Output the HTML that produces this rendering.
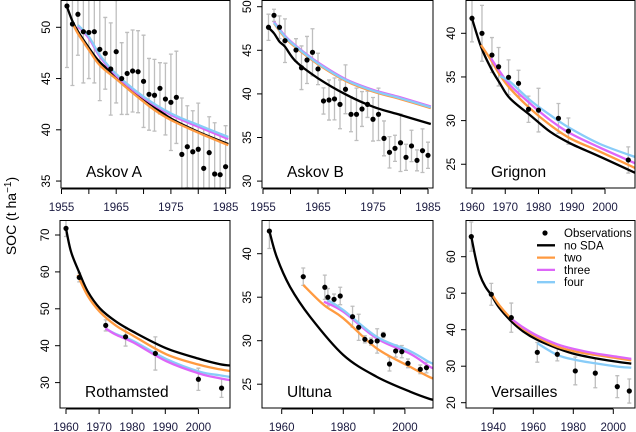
<!DOCTYPE html>
<html><head><meta charset="utf-8"><style>
html,body{margin:0;padding:0;background:#fff;}
svg{display:block;font-family:"Liberation Sans",sans-serif;}
</style></head><body>
<svg id="chart" width="636" height="432" viewBox="0 0 636 432" xmlns="http://www.w3.org/2000/svg">
<text transform="translate(16,216) rotate(-90)" text-anchor="middle" font-size="14">SOC (t ha<tspan baseline-shift="super" font-size="10">−1</tspan>)</text>
</svg>
<script>
// ---------- Askov A ----------
const askovAYears=[1956,1957,1958,1959,1960,1961,1962,1963,1964,1965,1966,1967,1968,1969,1970,1971,1972,1973,1974,1975,1976,1977,1978,1979,1980,1981,1982,1983,1984,1985];
const askovAObs=[52.08,50.32,51.27,49.57,49.5,49.57,47.85,47.46,45.93,47.62,45.0,45.5,45.74,45.67,44.73,43.46,43.37,44.05,43.0,42.68,43.17,37.6,38.35,37.86,38.1,36.24,37.77,35.69,35.62,36.4];
const askovAErr=[6,6,4,5,4.5,5,5,3.5,4.5,5,3.5,4,4,4,4.5,3.5,3.5,2.5,3.5,4.7,4.5,5.5,4,4,4.5,4,3.5,5,4,4];
const askovANoYears=[1956,1957,1958,1960,1962,1965,1968,1971,1975,1980,1985.5];
const askovANo=[52.0,50.6,49.6,48.0,46.6,45.2,43.8,42.6,41.1,39.8,38.6];
const askovATwoYears=[1957,1958,1960,1962,1965,1967,1970,1972,1975,1980,1985.5];
const askovATwo=[50.4,49.4,47.8,46.3,44.96,44.05,42.74,41.93,40.96,39.72,38.5];
const askovAThreeYears=[1958,1960,1962,1965,1970,1975,1980,1985.5];
const askovAThree=[50.1,48.95,47.15,45.3,43.1,41.45,40.3,39.1];
const askovAFourYears=[1958,1960,1962,1965,1970,1975,1980,1985.5];
const askovAFour=[50.22,49.1,47.3,45.44,43.23,41.6,40.47,39.3];
// ---------- Askov B ----------
const askovBYears=[1956,1957,1958,1959,1961,1962,1963,1964,1965,1966,1967,1968,1969,1970,1971,1972,1973,1974,1975,1976,1977,1978,1979,1980,1981,1982,1983,1984,1985];
const askovBObs=[47.64,49.01,47.64,46.1,45.03,43.0,43.89,44.77,42.86,39.19,39.3,39.42,38.8,40.53,37.66,37.66,38.27,38.8,37.09,37.66,34.9,33.3,33.76,34.4,32.73,34.03,32.38,33.49,32.96];
const askovBErr=[1.5,0.7,1.3,2.5,1.3,2.5,2.7,2.7,1.8,1.5,2.3,2.4,2.8,2.8,2,3,2,1.5,2.5,3,2,1.8,1.5,3.3,1.5,1.8,1.2,2.5,1.5];
const askovBNoYears=[1956,1957,1958,1959,1961,1965,1970,1975,1980,1985.5];
const askovBNo=[47.6,46.95,45.99,45.41,43.7,41.79,39.95,38.53,37.58,36.55];
const askovBTwoYears=[1957,1959,1961,1965,1970,1975,1980,1985.5];
const askovBTwo=[48.1,46.45,45.3,43.4,41.5,40.27,39.4,38.36];
const askovBThreeYears=[1957,1959,1961,1965,1970,1975,1980,1985.5];
const askovBThree=[48.27,46.66,45.5,43.6,41.7,40.47,39.6,38.56];
const askovBFourYears=[1957,1959,1961,1965,1970,1975,1980,1985.5];
const askovBFour=[48.17,46.56,45.41,43.5,41.6,40.37,39.5,38.46];
// ---------- Grignon ----------
const grignonYears=[1960,1963,1966,1968,1971,1974,1977,1980,1986,1989,2007];
const grignonObs=[41.72,40.0,37.51,36.17,34.96,34.27,31.3,31.2,30.26,28.8,25.49];
const grignonErr=[2.7,3.2,2,2.2,2,1.5,1.5,2.5,1.7,1.5,1.5];
const grignonNoYears=[1960,1962.7,1965.7,1968.4,1971.4,1977.4,1983.5,1989.5,1998.5,2010];
const grignonNo=[41.7,38.47,35.99,34.27,32.55,30.64,28.73,27.4,25.87,23.85];
const grignonTwoYears=[1962.7,1965.7,1968.4,1971.4,1977.4,1983.5,1989.5,1998.5,2010];
const grignonTwo=[38.66,36.94,35.22,33.7,31.41,29.5,27.97,26.44,24.4];
const grignonThreeYears=[1965.7,1968.4,1971.4,1977.4,1983.5,1989.5,1998.5,2010];
const grignonThree=[37.14,35.6,34.08,31.98,30.07,28.54,26.9,24.95];
const grignonFourYears=[1968.4,1971.4,1977.4,1983.5,1989.5,1998.5,2010];
const grignonFour=[35.1,34.46,32.36,30.64,29.12,27.32,25.7];
// ---------- Rothamsted ----------
const rothYears=[1960,1964,1972,1978,1987,2000,2007];
const rothObs=[71.8,58.5,45.5,42.4,37.9,30.9,28.5];
const rothErr=[2.2,1.2,1.5,2.5,4.5,3,2.5];
const rothNoYears=[1960,1961.5,1963.9,1966.5,1970.2,1975,1980.3,1990.3,2000.4,2006.4,2010];
const rothNo=[71.8,65.5,60.05,54.8,50.14,46.6,43.8,39.3,36.4,35.0,34.6];
const rothTwoYears=[1963.5,1966.5,1970.2,1975,1980.3,1990.3,2000.4,2006.4,2010];
const rothTwo=[59.2,53.6,49.2,45.5,42.7,37.67,34.8,33.6,33.1];
const rothThreeYears=[1971.9,1975,1980.3,1990.3,2000.4,2006.4,2010];
const rothThree=[44.7,43.0,40.9,35.8,32.4,31.2,30.6];
const rothFourYears=[1971.9,1975,1980.3,1990.3,2000.4,2006.4,2010];
const rothFour=[44.7,43.2,41.3,36.4,32.96,32.0,31.5];
// ---------- Ultuna ----------
const ultunaYears=[1956,1967,1974,1975,1977,1979,1983,1985,1987,1989,1991,1993,1995,1997,1999,2001,2005,2007];
const ultunaObs=[42.6,37.36,36.14,34.99,34.76,35.14,32.76,31.54,30.16,29.89,29.97,30.66,27.32,28.82,28.74,27.4,26.71,26.9];
const ultunaErr=[2,1,1.4,1,0.6,1,1.2,1.5,0.4,0.4,1.4,0.3,0.8,0.7,0.7,0.5,0.5,0.6];
const ultunaNoYears=[1956,1958.4,1962.7,1969.2,1980,1990.8,2001.7,2008.1,2010];
const ultunaNo=[42.6,39.6,36.2,32.76,28.36,25.86,24.14,23.3,23.2];
const ultunaTwoYears=[1967,1973.7,1980,1990.8,2001.7,2008.1,2010];
const ultunaTwo=[36.4,34.1,32.57,29.13,27.0,25.8,25.6];
const ultunaThreeYears=[1973.7,1980,1990.8,2001.7,2008.1,2010];
const ultunaThree=[34.48,33.33,30.28,28.5,27.0,26.8];
const ultunaFourYears=[1974.8,1980,1990.8,2001.7,2008.1,2010];
const ultunaFour=[34.68,33.53,30.46,28.8,27.5,27.3];
// ---------- Versailles ----------
const versYears=[1929,1939,1949,1962,1972,1981,1991,2002,2008];
const versObs=[65.5,49.7,43.3,33.8,33.26,28.7,28.1,24.4,23.2];
const versErr=[4,3,4,2.7,1.8,3.8,4,3,3.3];
const versNoYears=[1929,1931,1933.3,1936,1939,1943,1949.2,1955,1962,1972,1981.2,1990.9,2002,2009];
const versNo=[65.5,60.0,55.0,51.8,49.5,46.0,42.2,39.5,37.2,34.9,33.26,32.2,31.2,30.7];
const versTwoYears=[1939,1943,1949.2,1955,1962,1972,1981.2,1990.9,2002,2009];
const versTwo=[49.97,46.7,42.9,40.2,37.9,35.35,34.0,33.1,32.2,31.6];
const versThreeYears=[1949.2,1955,1962,1972,1981.2,1990.9,2002,2009];
const versThree=[42.9,40.6,38.35,36.0,34.6,33.5,32.6,32.0];
const versFourYears=[1962,1972,1981.2,1990.9,2002,2009];
const versFour=[36.3,33.1,31.7,30.8,29.9,29.6];

const colNo='#000000', colTwo='#FF9A40', colThree='#DD66F8', colFour='#88CCF8';
const NS='http://www.w3.org/2000/svg';
const svg=document.getElementById('chart');
function mk(tag,attrs,parent){const e=document.createElementNS(NS,tag);for(const k in attrs)e.setAttribute(k,attrs[k]);(parent||svg).appendChild(e);return e;}
function smooth(pts){
  if(pts.length<3) return pts.map((p,i)=>(i?'L':'M')+p[0].toFixed(1)+','+p[1].toFixed(1)).join('');
  let d='M'+pts[0][0].toFixed(1)+','+pts[0][1].toFixed(1);
  for(let i=0;i<pts.length-1;i++){
    const p0=pts[i-1]||pts[i],p1=pts[i],p2=pts[i+1],p3=pts[i+2]||p2;
    const c1=[p1[0]+(p2[0]-p0[0])/6,p1[1]+(p2[1]-p0[1])/6];
    const c2=[p2[0]-(p3[0]-p1[0])/6,p2[1]-(p3[1]-p1[1])/6];
    d+=`C${c1[0].toFixed(1)},${c1[1].toFixed(1)} ${c2[0].toFixed(1)},${c2[1].toFixed(1)} ${p2[0].toFixed(1)},${p2[1].toFixed(1)}`;
  }
  return d;
}

const panels=[
 {id:'askov-a',label:'Askov A',box:[61,0,230,188],xc:[1955,61.5,5.47],yc:[50,27.3,10.25],xticks:[1955,1960,1965,1970,1975,1980,1985],xlab:[1955,1965,1975,1985],yticks:[35,40,45,50],
  yrs:askovAYears,obs:askovAObs,err:askovAErr,lines:[[askovANoYears,askovANo,colNo],[askovATwoYears,askovATwo,colTwo],[askovAThreeYears,askovAThree,colThree],[askovAFourYears,askovAFour,colFour]]},
 {id:'askov-b',label:'Askov B',box:[262,0,433,188],xc:[1955,263,5.5],yc:[50,6.7,8.72],xticks:[1955,1960,1965,1970,1975,1980,1985],xlab:[1955,1965,1975,1985],yticks:[30,35,40,45,50],
  yrs:askovBYears,obs:askovBObs,err:askovBErr,lines:[[askovBNoYears,askovBNo,colNo],[askovBTwoYears,askovBTwo,colTwo],[askovBThreeYears,askovBThree,colThree],[askovBFourYears,askovBFour,colFour]]},
 {id:'grignon',label:'Grignon',box:[466,0,635,188],xc:[1960,472,3.325],yc:[40,33.3,8.73],xticks:[1960,1970,1980,1990,2000],xlab:[1960,1970,1980,1990,2000],yticks:[25,30,35,40],
  yrs:grignonYears,obs:grignonObs,err:grignonErr,lines:[[grignonNoYears,grignonNo,colNo],[grignonTwoYears,grignonTwo,colTwo],[grignonThreeYears,grignonThree,colThree],[grignonFourYears,grignonFour,colFour]]},
 {id:'rothamsted',label:'Rothamsted',box:[60,220,230,408],xc:[1960,66,3.31],yc:[70,235,3.69],xticks:[1960,1970,1980,1990,2000],xlab:[1960,1970,1980,1990,2000],yticks:[30,40,50,60,70],
  yrs:rothYears,obs:rothObs,err:rothErr,lines:[[rothNoYears,rothNo,colNo],[rothTwoYears,rothTwo,colTwo],[rothFourYears,rothFour,colFour],[rothThreeYears,rothThree,colThree]]},
 {id:'ultuna',label:'Ultuna',box:[262,220,433,408],xc:[1960,281.7,3.08],yc:[40,253.7,8.7],xticks:[1960,1970,1980,1990,2000],xlab:[1960,1980,2000],yticks:[25,30,35,40],
  yrs:ultunaYears,obs:ultunaObs,err:ultunaErr,lines:[[ultunaNoYears,ultunaNo,colNo],[ultunaTwoYears,ultunaTwo,colTwo],[ultunaThreeYears,ultunaThree,colThree],[ultunaFourYears,ultunaFour,colFour]]},
 {id:'versailles',label:'Versailles',box:[466,220,635,408],xc:[1940,493.3,2.0],yc:[60,256.7,3.65],xticks:[1940,1960,1980,2000],xlab:[1940,1960,1980,2000],yticks:[20,30,40,50,60],
  yrs:versYears,obs:versObs,err:versErr,lines:[[versNoYears,versNo,colNo],[versFourYears,versFour,colFour],[versTwoYears,versTwo,colTwo],[versThreeYears,versThree,colThree]]}
];

panels.forEach((p,pi)=>{
  const [l,t,r,b]=p.box;
  const X=yr=>p.xc[1]+(yr-p.xc[0])*p.xc[2];
  const Y=v=>p.yc[1]+(p.yc[0]-v)*p.yc[2];
  const g=mk('g',{});
  
  
  const cp=mk('clipPath',{id:'clip'+pi},g);
  mk('rect',{x:l,y:t,width:r-l,height:b-t},cp);
  const plot=mk('g',{'clip-path':'url(#clip'+pi+')'},g);
  p.yrs.forEach((yr,i)=>{
    const x=X(yr), y1=Y(p.obs[i]+p.err[i]), y2=Y(p.obs[i]-p.err[i]);
    const e=mk('path',{d:`M${x},${y1}V${y2}M${x-2},${y1}H${x+2}M${x-2},${y2}H${x+2}`,stroke:'#BEBEBE','stroke-width':1.3,fill:'none'},plot);
    
    
  });
  p.lines.forEach(([ys,vs,c])=>{
    const pts=ys.map((yr,i)=>[X(yr),Y(vs[i])]);
    const ln=mk('path',{d:smooth(pts),stroke:c,'stroke-width':2.3,fill:'none','stroke-linejoin':'round'},plot);
    
    
  });
  p.yrs.forEach((yr,i)=>{
    const pt=mk('circle',{cx:X(yr),cy:Y(p.obs[i]),r:2.6,fill:'#000'},plot);
    
    
  });
  const bx=mk('rect',{x:l,y:t+0.5,width:r-l,height:b-t-0.5,fill:'none',stroke:'#000','stroke-width':1},g);
  
  
  const xa=mk('g',{},g);
  
  
  mk('line',{x1:X(p.xticks[0]),x2:X(p.xticks[p.xticks.length-1]),y1:b+1,y2:b+1,stroke:'#000'},xa);
  p.xticks.forEach(v=>{mk('line',{x1:X(v),x2:X(v),y1:b+1,y2:b+6,stroke:'#000'},xa);});
  p.xlab.forEach(v=>{const tx=mk('text',{x:X(v),y:b+23,'text-anchor':'middle','font-size':11.5,fill:'#1a1a40'},xa);tx.textContent=v;
    
    });
  const ya=mk('g',{},g);
  
  
  p.yticks.forEach(v=>{mk('line',{x1:l-5,x2:l,y1:Y(v),y2:Y(v),stroke:'#000'},ya);
    const tx=mk('text',{transform:`translate(${l-11},${Y(v)}) rotate(-90)`,'text-anchor':'middle','font-size':11.5},ya);tx.textContent=v;
    
    });
  const lb=mk('text',{x:l+25,y:b-11,'font-size':15.5},g);
  lb.textContent=p.label;
  
  
});

const lg=mk('g',{});


const legLabels=['Observations','no SDA','two','three','four'];
const legCols=[null,colNo,colTwo,colThree,colFour];
legLabels.forEach((t,i)=>{
  const y=233+i*12.3;
  const it=mk('g',{},lg);
  
  
  if(i===0) mk('circle',{cx:545,cy:y,r:2.6,fill:'#000'},it);
  else mk('line',{x1:537,x2:555,y1:y,y2:y,stroke:legCols[i],'stroke-width':2.3},it);
  const tx=mk('text',{x:564,y:y+4,'font-size':11.5},it);
  tx.textContent=t;
});
</script>
</body></html>
